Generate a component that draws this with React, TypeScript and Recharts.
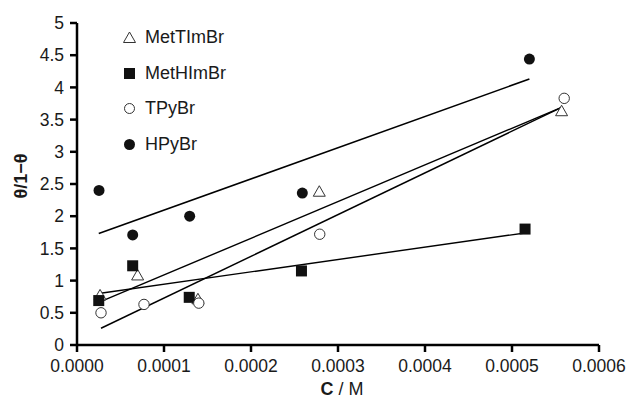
import React from 'react';
import { ScatterChart, Scatter, XAxis, YAxis, Legend } from 'recharts';

// Measured points for each salt: concentration C (M) and θ/(1−θ)
const metTImBrC = [0.0000265, 0.0000697, 0.000139, 0.0002785, 0.000557];
const metTImBrY = [0.77, 1.08, 0.71, 2.38, 3.63];

const metHImBrC = [0.000025, 0.000064, 0.000129, 0.000258, 0.000515];
const metHImBrY = [0.69, 1.23, 0.74, 1.15, 1.8];

const tPyBrC = [0.0000276, 0.000077, 0.00014, 0.000279, 0.00056];
const tPyBrY = [0.5, 0.63, 0.65, 1.72, 3.83];

const hPyBrC = [0.0000253, 0.000064, 0.0001295, 0.000259, 0.00052];
const hPyBrY = [2.4, 1.71, 2.0, 2.36, 4.44];

// Linear fit lines (end points)
const fitHPyBrC = [0.000025, 0.00052];
const fitHPyBrY = [1.73, 4.13];
const fitMetHImBrC = [0.000025, 0.000515];
const fitMetHImBrY = [0.8, 1.74];
const fitMetTImBrC = [0.0000284, 0.000557];
const fitMetTImBrY = [0.68, 3.69];
const fitTPyBrC = [0.0000276, 0.000557];
const fitTPyBrY = [0.26, 3.69];

const xTicks = [0, 0.0001, 0.0002, 0.0003, 0.0004, 0.0005, 0.0006];
const yTicks = [0, 0.5, 1, 1.5, 2, 2.5, 3, 3.5, 4, 4.5, 5];

const seriesNames = ['MetTImBr', 'MetHImBr', 'TPyBr', 'HPyBr'];

const zip = (xs: number[], ys: number[]) => xs.map((x, i) => ({ x, y: ys[i] }));

const FONT = '"Liberation Sans", Arial, Helvetica, sans-serif';
const INK = '#111';

const Triangle = (props: any) => {
  const { cx, cy } = props;
  if (cx == null || cy == null) return <g />;
  const s = 6;
  return (
    <path
      d={`M${cx},${cy - s} L${cx + s},${cy + s * 0.75} L${cx - s},${cy + s * 0.75} Z`}
      fill="#fff"
      stroke="#333"
      strokeWidth={1}
    />
  );
};

const Square = (props: any) => {
  const { cx, cy } = props;
  if (cx == null || cy == null) return <g />;
  return <rect x={cx - 5.5} y={cy - 5.5} width={11} height={11} fill={INK} />;
};

const OpenCircle = (props: any) => {
  const { cx, cy } = props;
  if (cx == null || cy == null) return <g />;
  return <circle cx={cx} cy={cy} r={5.2} fill="#fff" stroke="#333" strokeWidth={1} />;
};

const FilledCircle = (props: any) => {
  const { cx, cy } = props;
  if (cx == null || cy == null) return <g />;
  return <circle cx={cx} cy={cy} r={5.5} fill={INK} />;
};

const NoMark = () => <g />;

const legendIcons = [
  <path key="t" d="M6.5,1 L12.5,11.5 L0.5,11.5 Z" fill="#fff" stroke="#333" strokeWidth={1} />,
  <rect key="s" x={1} y={1} width={11} height={11} fill={INK} />,
  <circle key="c" cx={6.5} cy={6.5} r={5} fill="#fff" stroke="#333" strokeWidth={1} />,
  <circle key="f" cx={6.5} cy={6.5} r={5.5} fill={INK} />,
];

const LegendBox = () => (
  <div style={{ position: 'absolute', left: 123, top: 20, fontFamily: FONT, fontSize: 18, color: '#1a1a1a' }}>
    {seriesNames.map((name, i) => (
      <div key={name} style={{ display: 'flex', alignItems: 'center', height: 35.6 }}>
        <svg width={13} height={13} style={{ marginRight: 9 }}>
          {legendIcons[i]}
        </svg>
        <span>{name}</span>
      </div>
    ))}
  </div>
);

const tickStyle = { fontFamily: FONT, fontSize: 17.5, fill: '#1a1a1a' };

export default function App() {
  return (
    <div style={{ position: 'absolute', left: 0, top: 0, background: '#fff' }}>
      <ScatterChart width={632} height={400} margin={{ top: 23, right: 33, bottom: 0, left: 0 }}>
        <XAxis
          type="number"
          dataKey="x"
          domain={[0, 0.0006]}
          ticks={xTicks}
          tickFormatter={(v: number) => v.toFixed(4)}
          height={55}
          stroke="#000"
          strokeWidth={2.5}
          tickSize={7}
          tickMargin={8}
          tick={tickStyle}
          allowDataOverflow
          label={{
            content: () => (
              <text x={342} y={395} textAnchor="middle" fontFamily={FONT} fontSize={18} fill="#1a1a1a">
                <tspan fontWeight="bold">C</tspan>
                <tspan> / M</tspan>
              </text>
            ),
          }}
        />
        <YAxis
          type="number"
          dataKey="y"
          domain={[0, 5]}
          ticks={yTicks}
          width={77}
          stroke="#000"
          strokeWidth={2.5}
          tickSize={7}
          tickMargin={6}
          tick={tickStyle}
          allowDataOverflow
          label={{
            content: () => (
              <text
                x={21}
                y={176}
                transform="rotate(-90 21 176)"
                textAnchor="middle"
                dominantBaseline="central"
                fontFamily={FONT}
                fontSize={18}
                fontWeight="bold"
                fill="#1a1a1a"
              >
                θ/1−θ
              </text>
            ),
          }}
        />
        <Legend content={() => <LegendBox />} wrapperStyle={{ left: 0, top: 0, width: 0, height: 0 }} />

        <Scatter data={zip(fitHPyBrC, fitHPyBrY)} line={{ stroke: '#000', strokeWidth: 1.6 }} shape={NoMark} isAnimationActive={false} legendType="none" />
        <Scatter data={zip(fitMetHImBrC, fitMetHImBrY)} line={{ stroke: '#000', strokeWidth: 1.4 }} shape={NoMark} isAnimationActive={false} legendType="none" />
        <Scatter data={zip(fitMetTImBrC, fitMetTImBrY)} line={{ stroke: '#000', strokeWidth: 1.4 }} shape={NoMark} isAnimationActive={false} legendType="none" />
        <Scatter data={zip(fitTPyBrC, fitTPyBrY)} line={{ stroke: '#000', strokeWidth: 1.4 }} shape={NoMark} isAnimationActive={false} legendType="none" />

        <Scatter name="MetTImBr" data={zip(metTImBrC, metTImBrY)} shape={Triangle} isAnimationActive={false} />
        <Scatter name="MetHImBr" data={zip(metHImBrC, metHImBrY)} shape={Square} isAnimationActive={false} />
        <Scatter name="TPyBr" data={zip(tPyBrC, tPyBrY)} shape={OpenCircle} isAnimationActive={false} />
        <Scatter name="HPyBr" data={zip(hPyBrC, hPyBrY)} shape={FilledCircle} isAnimationActive={false} />
      </ScatterChart>
    </div>
  );
}
